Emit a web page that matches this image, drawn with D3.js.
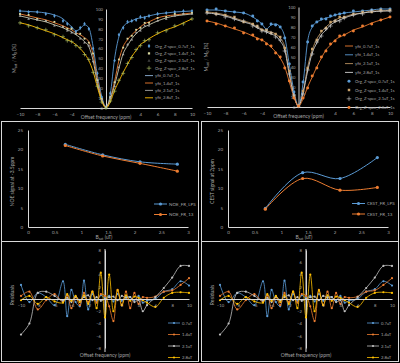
<!DOCTYPE html>
<html lang="en">
<head>
<meta charset="utf-8">
<title>Z-spectra, NOE / CEST and residuals</title>
<script src="https://cdn.jsdelivr.net/npm/d3@7"></script>
<style>
  body { margin: 0; background: #000; }
  svg { display: block; }
  text { font-family: Lato, "Liberation Sans", sans-serif; fill: #a6a6a6; }
</style>
</head>
<body>
<script>
var w = 400;
var h = 363;

// offsets (ppm) shared by the Z-spectra and the residuals
var zOffsets = [-10,-9,-8,-7,-6,-5,-4.5,-4,-3.5,-3,-2.5,-2,-1.5,-1,-0.5,0,0.5,1,1.5,2,2.5,3,3.5,4,4.5,5,6,7,8,9,10];

// top left: fitted curves and measured points
var tlFit07 = [98,97.5,97,96,94,90,86,82,78,80,84,81,62,33,12,1,14,50,72,82,86,88,90,91,92,93,95,96,97,97.5,98];
var tlFit14 = [95,93,91,89,86,83,81,79,76,74,71,67,54,29,9,1,10,27,48,62,69,74,78,82,85,87,91,93,94,95,96];
var tlFit21 = [93,91,89,87,84,81,79,77,74,71,67,62,48,25,8,1,9,23,40,55,63,70,75,79,82,84,88,91,93,94,95];
var tlFit28 = [86,84,81,78,75,71,69,67,64,60,55,48,37,21,7,0,6,18,27,36,44,52,58,64,67,70,75,79,82,86,90];
var tlMeas07 = [98,97,97,95,93,88,85,81,77,81,85,80,60,35,11,1,15,48,74,81,87,88,89,92,91,93,95,96,97,98,98];
var tlMeas14 = [95,94,90,88,87,82,80,80,75,75,70,66,55,28,9,1,11,26,49,61,70,73,79,81,86,86,91,92,95,95,96];
var tlMeas21 = [93,90,89,88,83,82,78,76,75,70,66,63,47,26,8,1,10,22,41,54,64,69,76,78,83,83,88,90,93,95,95];
var tlMeas28 = [86,83,81,79,74,72,68,67,63,61,54,49,36,22,6,0,7,17,28,35,45,51,59,63,68,69,76,78,83,85,90];
var tlLegend = ["Org_Z-spec_0.7uT_1s","Org_Z-spec_1.4uT_1s","Org_Z-spec_2.1uT_1s","Org_Z-spec_2.8uT_1s",
                "yfit_0.7uT_1s","yfit_1.4uT_1s","yfit_2.1uT_1s","yfit_2.8uT_1s"];

// top right
var trFitBlue = [97,97,96,95,94,90,87,83,78,82,83,80,70,42,16,1,24,66,80,85,87,89,90,92,93,94,95,96,97,98,98];
var trFitTan = [95,94,92,89,86,83,80,78,76,75,73,69,60,35,12,1,15,40,57,68,75,80,84,87,89,90,93,94,96,96,97];
var trFitGrey = [94,93,91,88,85,82,79,77,75,73,71,66,57,32,11,1,14,36,54,64,72,77,82,85,87,89,92,94,95,96,96];
var trFitOrange = [86,84,81,78,75,71,69,67,64,60,55,49,40,25,10,1,8,20,30,40,49,57,62,67,70,72,77,80,84,87,90];
var trMeasBlue = [97,98,96,95,94,91,86,83,77,83,82,80,69,43,15,1,25,65,81,85,88,88,91,92,93,94,96,96,97,98,98];
var trMeasTan = [95,93,92,90,85,83,81,77,77,74,73,70,59,36,11,1,16,39,58,67,76,79,85,86,90,90,93,95,95,97,97];
var trMeasGrey = [94,93,90,88,86,81,80,76,75,74,70,67,56,33,12,1,13,37,53,65,71,78,81,86,86,89,92,93,96,96,96];
var trMeasOrange = [86,83,81,79,74,72,68,67,63,61,54,50,39,26,9,1,9,19,31,39,50,56,63,66,71,72,76,81,83,87,90];
var trLegend = ["yfit_0.7uT_1s","yfit_1.4uT_1s","yfit_2.1uT_1s","yfit_2.8uT_1s",
                "Org_Z-spec_0.7uT_1s","Org_Z-spec_1.4uT_1s","Org_Z-spec_2.1uT_1s","Org_Z-spec_2.8uT_1s"];

// middle: signal vs saturation power
var bsat = [0.7, 1.4, 2.1, 2.8];
var noeLPS = [21.3, 18.6, 16.8, 16.2];
var noe13 = [21.0, 18.3, 16.4, 14.4];
var cestLPS = [4.8, 14.0, 12.5, 17.9];
var cest13 = [4.6, 12.5, 9.5, 10.2];
var bTicks = [0, 0.5, 1, 1.5, 2, 2.5, 3];
var sigTicks = [0, 5, 10, 15, 20, 25];

// bottom: residuals
var res07 = [2.3,-0.5,1.0,0.3,-1.0,2.9,-2.8,1.5,-0.5,-1.2,3.0,-1.7,0.8,-0.3,0.6,0.2,0.5,-0.4,0.8,-0.3,0.4,0.3,-0.2,0.5,-0.6,-0.3,0.0,1.2,1.6,2.9,2.2];
var res14 = [0.5,1.2,-1.7,-0.2,0.8,-0.5,0.6,-1.5,0.3,-1.0,1.0,-0.5,1.2,-0.6,0.8,0.5,-1.2,-3.6,1.5,-1.0,1.2,-1.5,1.0,-0.8,0.3,0.2,0.4,1.2,1.4,2.3,3.4];
var res21 = [-5.8,-4.0,1.0,1.2,0.5,-0.3,0.2,-0.5,0.4,-0.2,0.3,0.6,-0.2,0.3,-0.3,0.0,0.3,0.4,-0.2,0.5,0.2,0.3,-0.5,-0.2,-2.0,-1.0,0.3,1.8,3.5,5.4,5.4];
var res28 = [-0.2,0.5,-0.8,0.3,-0.4,-0.6,0.8,-0.3,0.5,-0.5,0.6,-0.8,1.2,-1.5,4.3,-3.0,4.0,-2.0,1.4,-1.0,0.6,-0.3,0.4,0.2,-0.2,-0.6,-1.3,0.2,1.0,1.1,1.0];
var resLegend = ["0.7uT","1.4uT","2.1uT","2.8uT"];

var blue = "#5b9bd5", orange = "#ed7d31", grey = "#a5a5a5", gold = "#ffc000";
var tan = "#b8915f", axisCol = "#d9d9d9";

var svg = d3.select("body").append("svg").attr("width", w).attr("height", h);
svg.append("rect").attr("width", w).attr("height", h).attr("fill", "#000");

// panel frames (middle and bottom rows)
[[1.5,121.5],[201.5,121.5],[1.5,241.5],[201.5,241.5]].forEach(function(p) {
	svg.append("rect").attr("x", p[0]).attr("y", p[1]).attr("width", 197).attr("height", 120)
		.attr("fill", "none").attr("stroke", axisCol).attr("stroke-width", 1);
});

function styleAxis(g, fs) {
	g.select(".domain").attr("stroke", axisCol).attr("stroke-width", 1);
	g.selectAll(".tick line").remove();
	g.selectAll("text").attr("font-size", fs).attr("fill", "#a6a6a6").attr("font-family", "Lato, sans-serif");
}

function series(xs, ys) {
	return xs.map(function(d, i) { return [d, ys[i]]; });
}

// ---------- Z-spectrum panels ----------
function zPanel(cfg) {
	var x = d3.scaleLinear().domain([-10, 10]).range(cfg.xr);
	var y = d3.scaleLinear().domain([0, 100]).range(cfg.yr);
	var g = svg.append("g");

	g.append("g").attr("transform", "translate(0," + y(0) + ")")
		.call(d3.axisBottom(x).tickValues([-10,-8,-6,-4,4,6,8,10]).tickSize(0).tickPadding(5).tickSizeOuter(0))
		.call(styleAxis, 4.5);
	g.append("g").attr("transform", "translate(" + x(0) + ",0)")
		.call(d3.axisLeft(y).tickValues(d3.range(0, 101, 10)).tickSize(0).tickPadding(3).tickSizeOuter(0))
		.call(styleAxis, 4.2);

	var line = d3.line().curve(d3.curveMonotoneX)
		.x(function(d) { return x(d[0]); }).y(function(d) { return y(d[1]); });

	cfg.fits.forEach(function(s) {
		g.append("path").datum(series(zOffsets, s.v)).attr("d", line)
			.attr("fill", "none").attr("stroke", s.c).attr("stroke-width", 0.9);
	});
	cfg.meas.forEach(function(s) {
		g.selectAll(null).data(series(zOffsets, s.v)).enter().append("path")
			.attr("transform", function(d) { return "translate(" + x(d[0]) + "," + y(d[1]) + ")"; })
			.attr("d", d3.symbol().type(s.t).size(s.sz))
			.attr("fill", s.t === d3.symbolPlus ? "none" : s.c)
			.attr("stroke", s.t === d3.symbolPlus ? s.c : "none").attr("stroke-width", 0.6);
	});

	// legend
	cfg.legend.forEach(function(e, i) {
		var ly = cfg.ly + i * cfg.ldy;
		if (e.kind === "line") {
			g.append("line").attr("x1", cfg.lx).attr("x2", cfg.lx + 8).attr("y1", ly).attr("y2", ly)
				.attr("stroke", e.c).attr("stroke-width", 0.9);
		} else {
			g.append("path").attr("transform", "translate(" + (cfg.lx + 4) + "," + ly + ")")
				.attr("d", d3.symbol().type(e.t).size(e.sz))
				.attr("fill", e.t === d3.symbolPlus ? "none" : e.c)
				.attr("stroke", e.t === d3.symbolPlus ? e.c : "none").attr("stroke-width", 0.6);
		}
		g.append("text").attr("x", cfg.lx + 10).attr("y", ly + 1.5).attr("font-size", 4.2).text(e.label);
	});

	// axis titles
	g.append("text").attr("x", x(0)).attr("y", cfg.yr[0] + 10.5).attr("text-anchor", "middle")
		.attr("font-size", 5).text("Offset frequency (ppm)");
	var yt = g.append("text").attr("transform", "translate(" + cfg.ytx + "," + ((cfg.yr[0] + cfg.yr[1]) / 2) + ") rotate(-90)")
		.attr("text-anchor", "middle").attr("font-size", 5);
	yt.append("tspan").text("M");
	yt.append("tspan").attr("font-size", 3.6).attr("dy", 1.2).text("sat");
	yt.append("tspan").attr("dy", -1.2).text(" / M");
	yt.append("tspan").attr("font-size", 3.6).attr("dy", 1.2).text("0");
	yt.append("tspan").attr("dy", -1.2).text(" (%)");
}

zPanel({
	xr: [20, 192], yr: [108, 9], ytx: 16, lx: 145, ly: 46, ldy: 7.4,
	fits: [{v: tlFit07, c: blue}, {v: tlFit14, c: orange}, {v: tlFit21, c: "#c8c8b0"}, {v: tlFit28, c: gold}],
	meas: [{v: tlMeas07, c: blue, t: d3.symbolDiamond, sz: 5},
	       {v: tlMeas14, c: "#d8d8a0", t: d3.symbolSquare, sz: 3.5},
	       {v: tlMeas21, c: grey, t: d3.symbolTriangle, sz: 3},
	       {v: tlMeas28, c: "#b4c76a", t: d3.symbolPlus, sz: 6}],
	legend: [
		{kind: "pt", c: blue, t: d3.symbolDiamond, sz: 6, label: tlLegend[0]},
		{kind: "pt", c: "#d8d8a0", t: d3.symbolSquare, sz: 5, label: tlLegend[1]},
		{kind: "pt", c: "#404040", t: d3.symbolTriangle, sz: 4, label: tlLegend[2]},
		{kind: "pt", c: "#b4c76a", t: d3.symbolPlus, sz: 8, label: tlLegend[3]},
		{kind: "line", c: "#8fb4d9", label: tlLegend[4]},
		{kind: "line", c: orange, label: tlLegend[5]},
		{kind: "line", c: grey, label: tlLegend[6]},
		{kind: "line", c: gold, label: tlLegend[7]}
	]
});

zPanel({
	xr: [207, 390], yr: [107, 7], ytx: 208, lx: 345, ly: 46, ldy: 8.8,
	fits: [{v: trFitBlue, c: blue}, {v: trFitTan, c: tan}, {v: trFitGrey, c: "#d0d0d0"}, {v: trFitOrange, c: orange}],
	meas: [{v: trMeasBlue, c: blue, t: d3.symbolCircle, sz: 7},
	       {v: trMeasTan, c: "#c9a26b", t: d3.symbolSquare, sz: 6},
	       {v: trMeasGrey, c: "#d0d0d0", t: d3.symbolPlus, sz: 7},
	       {v: trMeasOrange, c: orange, t: d3.symbolCircle, sz: 7}],
	legend: [
		{kind: "line", c: orange, label: trLegend[0]},
		{kind: "line", c: blue, label: trLegend[1]},
		{kind: "line", c: tan, label: trLegend[2]},
		{kind: "line", c: "#d0d0d0", label: trLegend[3]},
		{kind: "pt", c: blue, t: d3.symbolCircle, sz: 7, label: trLegend[4]},
		{kind: "pt", c: "#c9a26b", t: d3.symbolSquare, sz: 6, label: trLegend[5]},
		{kind: "pt", c: "#d0d0d0", t: d3.symbolPlus, sz: 8, label: trLegend[6]},
		{kind: "pt", c: orange, t: d3.symbolCircle, sz: 7, label: trLegend[7]}
	]
});

// ---------- signal vs B_sat panels ----------
function bPanel(cfg) {
	var x = d3.scaleLinear().domain([0, 3]).range(cfg.xr);
	var y = d3.scaleLinear().domain([0, 25]).range(cfg.yr);
	var g = svg.append("g");

	g.append("g").attr("transform", "translate(0," + y(0) + ")")
		.call(d3.axisBottom(x).tickValues(bTicks).tickFormat(d3.format("")).tickSize(0).tickPadding(4).tickSizeOuter(0))
		.call(styleAxis, 4.5);
	g.append("g").attr("transform", "translate(" + x(0) + ",0)")
		.call(d3.axisLeft(y).tickValues(sigTicks).tickSize(0).tickPadding(5).tickSizeOuter(0))
		.call(styleAxis, 4.5);

	var line = d3.line().curve(d3.curveCatmullRom.alpha(0.5))
		.x(function(d) { return x(d[0]); }).y(function(d) { return y(d[1]); });

	cfg.sets.forEach(function(s, i) {
		g.append("path").datum(series(bsat, s.v)).attr("d", line)
			.attr("fill", "none").attr("stroke", s.c).attr("stroke-width", 1);
		g.selectAll(null).data(series(bsat, s.v)).enter().append("circle")
			.attr("cx", function(d) { return x(d[0]); }).attr("cy", function(d) { return y(d[1]); })
			.attr("r", 1.6).attr("fill", s.c);
		var ly = cfg.ly + i * 10.5;
		g.append("line").attr("x1", cfg.lx).attr("x2", cfg.lx + 13).attr("y1", ly).attr("y2", ly)
			.attr("stroke", s.c).attr("stroke-width", 1);
		g.append("circle").attr("cx", cfg.lx + 6.5).attr("cy", ly).attr("r", 1.6).attr("fill", s.c);
		g.append("text").attr("x", cfg.lx + 15).attr("y", ly + 1.6).attr("font-size", 4.5).text(s.label);
	});

	var xt = g.append("text").attr("x", (cfg.xr[0] + cfg.xr[1]) / 2 - 4).attr("y", y(0) + 12)
		.attr("text-anchor", "middle").attr("font-size", 5);
	xt.append("tspan").text("B");
	xt.append("tspan").attr("font-size", 3.6).attr("dy", 1.2).text("sat");
	xt.append("tspan").attr("dy", -1.2).text(" (uT)");
	g.append("text").attr("transform", "translate(" + cfg.ytx + "," + ((cfg.yr[0] + cfg.yr[1]) / 2 + 3) + ") rotate(-90)")
		.attr("text-anchor", "middle").attr("font-size", 5).text(cfg.ytitle);
}

bPanel({
	xr: [28, 188], yr: [227, 130], ytx: 13.5, lx: 154, ly: 204, ytitle: "NOE signal at -3.5ppm",
	sets: [{v: noeLPS, c: blue, label: "NOE_FR_LPS"}, {v: noe13, c: orange, label: "NOE_FR_13"}]
});
bPanel({
	xr: [228, 388], yr: [227, 130], ytx: 214, lx: 352, ly: 203.5, ytitle: "CEST signal at 2ppm",
	sets: [{v: cestLPS, c: blue, label: "CEST_FR_LPS"}, {v: cest13, c: orange, label: "CEST_FR_13"}]
});

// ---------- residual panels ----------
function rPanel(cfg) {
	var x = d3.scaleLinear().domain([-10, 10]).range(cfg.xr);
	var y = d3.scaleLinear().domain([-8, 8]).range([348, 250]);
	var g = svg.append("g");

	g.append("line").attr("x1", x(0)).attr("x2", x(0)).attr("y1", 249).attr("y2", 352)
		.attr("stroke", axisCol).attr("stroke-width", 1);
	g.append("g").attr("transform", "translate(" + x(0) + ",0)")
		.call(d3.axisLeft(y).tickValues([-8,-6,-4,-2,2,4,6,8]).tickSize(0).tickPadding(4).tickSizeOuter(0))
		.call(styleAxis, 4.2);

	var line = d3.line().curve(d3.curveCatmullRom.alpha(0.5))
		.x(function(d) { return x(d[0]); }).y(function(d) { return y(d[1]); });

	var sets = [{v: res07, c: blue}, {v: res14, c: orange}, {v: res21, c: "#c0c0c0"}, {v: res28, c: gold}];
	sets.forEach(function(s, i) {
		g.append("path").datum(series(zOffsets, s.v)).attr("d", line)
			.attr("fill", "none").attr("stroke", s.c).attr("stroke-width", 0.8);
		g.selectAll(null).data(series(zOffsets, s.v)).enter().append("circle")
			.attr("cx", function(d) { return x(d[0]); }).attr("cy", function(d) { return y(d[1]); })
			.attr("r", 1.1).attr("fill", s.c);
		var ly = cfg.ly + i * 11.5;
		g.append("line").attr("x1", cfg.lx).attr("x2", cfg.lx + 12).attr("y1", ly).attr("y2", ly)
			.attr("stroke", s.c).attr("stroke-width", 0.8);
		g.append("circle").attr("cx", cfg.lx + 6).attr("cy", ly).attr("r", 1.1).attr("fill", s.c);
		g.append("text").attr("x", cfg.lx + 14).attr("y", ly + 1.5).attr("font-size", 4.2).text(resLegend[i]);
	});

	// zero line with tick labels
	g.append("g").attr("transform", "translate(0," + y(0) + ")")
		.call(d3.axisBottom(x).tickValues([-10,-8,-6,-4,-2,2,4,6,8,10]).tickSize(0).tickPadding(5).tickSizeOuter(0))
		.call(styleAxis, 4.2);

	g.append("text").attr("x", x(0)).attr("y", 357).attr("text-anchor", "middle")
		.attr("font-size", 5).text("Offset frequency (ppm)");
	g.append("text").attr("transform", "translate(" + cfg.ytx + ",295) rotate(-90)")
		.attr("text-anchor", "middle").attr("font-size", 5).text("Residuals");
}

rPanel({xr: [21, 189], ytx: 13.5, lx: 168, ly: 323});
rPanel({xr: [220, 392], ytx: 213.5, lx: 367, ly: 323});
</script>
</body>
</html>
